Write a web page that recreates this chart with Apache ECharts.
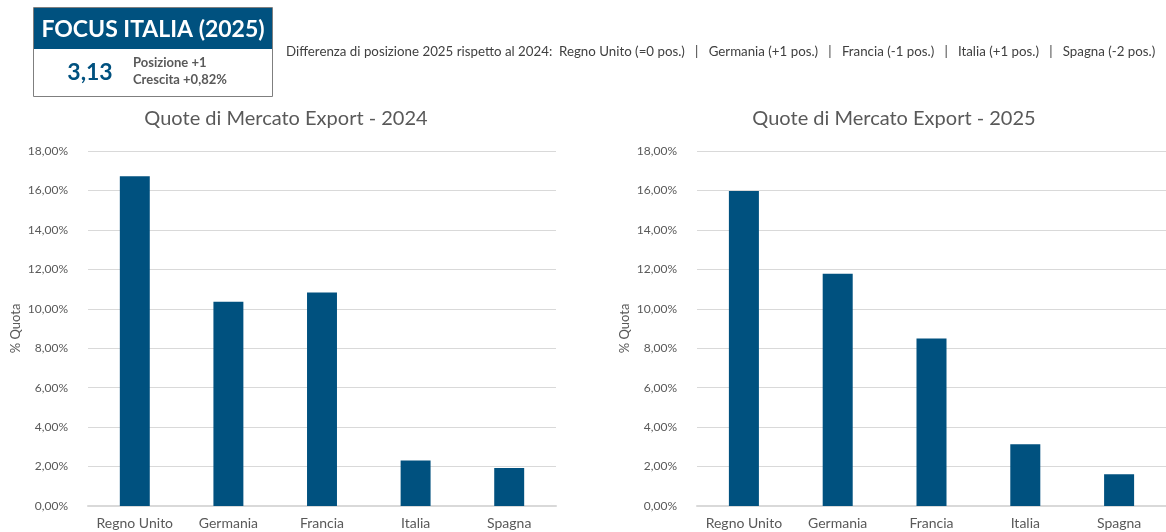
<!DOCTYPE html>
<html>
<head>
<meta charset="utf-8">
<script src="https://cdn.jsdelivr.net/npm/echarts@6/dist/echarts.min.js"></script>
<style>
  html, body { margin: 0; padding: 0; background: #fff; }
  #main { width: 1166px; height: 532px; }
</style>
</head>
<body>
<div id="main"></div>
<script>
// dati
let paesi = ["Regno Unito", "Germania", "Francia", "Italia", "Spagna"];
let quote2024 = [16.72, 10.36, 10.82, 2.31, 1.93];
let quote2025 = [15.97, 11.78, 8.49, 3.13, 1.61];
let differenze = "Differenza di posizione 2025 rispetto al 2024:  Regno Unito (=0 pos.)   |   Germania (+1 pos.)   |   Francia (-1 pos.)   |   Italia (+1 pos.)   |   Spagna (-2 pos.)";

let font = "Lato, 'Open Sans', sans-serif";
let blu = "#00517f";
let grigio = "#595959";

let myChart = echarts.init(document.getElementById("main"));

function yAxis(idx) {
  return {
    type: "value",
    gridIndex: idx,
    min: 0,
    max: 18,
    interval: 2,
    name: "% Quota",
    nameLocation: "middle",
    nameRotate: 90,
    nameGap: 66,
    nameTextStyle: { color: grigio, fontSize: 13, fontFamily: font },
    axisLine: { show: false },
    axisTick: { show: false },
    axisLabel: {
      color: grigio,
      fontSize: 12,
      fontFamily: font,
      margin: 20,
      formatter: function (v) { return v.toFixed(2).replace(".", ",") + "%"; }
    },
    splitLine: { lineStyle: { color: "#d9d9d9", width: 1 } }
  };
}

function xAxis(idx) {
  return {
    type: "category",
    gridIndex: idx,
    data: paesi,
    axisLine: { lineStyle: { color: "#d9d9d9", width: 2 } },
    axisTick: { show: false },
    axisLabel: { color: grigio, fontSize: 14, fontFamily: font, margin: 10, interval: 0, hideOverlap: false }
  };
}

let option = {
  animation: false,
  title: [
    {
      text: "Quote di Mercato Export - 2024",
      left: 281, top: 104, textAlign: "center",
      textStyle: { color: grigio, fontSize: 20, fontWeight: "normal", fontFamily: font }
    },
    {
      text: "Quote di Mercato Export - 2025",
      left: 889, top: 104, textAlign: "center",
      textStyle: { color: grigio, fontSize: 20, fontWeight: "normal", fontFamily: font }
    }
  ],
  grid: [
    { left: 88, right: 610, top: 151, bottom: 26 },
    { left: 697, right: 0, top: 151, bottom: 26 }
  ],
  xAxis: [xAxis(0), xAxis(1)],
  yAxis: [yAxis(0), yAxis(1)],
  series: [
    { type: "bar", xAxisIndex: 0, yAxisIndex: 0, data: quote2024, barWidth: "32%", itemStyle: { color: blu } },
    { type: "bar", xAxisIndex: 1, yAxisIndex: 1, data: quote2025, barWidth: "32%", itemStyle: { color: blu } }
  ],
  graphic: [
    {
      type: "rect",
      shape: { x: 33.5, y: 7.5, width: 239, height: 89 },
      style: { fill: "#fff", stroke: "#7f7f7f", lineWidth: 1 }
    },
    {
      type: "rect",
      shape: { x: 34, y: 8, width: 238, height: 41 },
      style: { fill: blu }
    },
    {
      type: "text", x: 153, y: 30,
      style: { text: "FOCUS ITALIA (2025)", fill: "#fff", font: "bold 23px " + font, align: "center", verticalAlign: "middle" }
    },
    {
      type: "text", x: 90, y: 73,
      style: { text: "3,13", fill: blu, font: "bold 23px " + font, align: "center", verticalAlign: "middle" }
    },
    {
      type: "text", x: 133, y: 63,
      style: { text: "Posizione +1", fill: grigio, font: "bold 13px " + font, verticalAlign: "middle" }
    },
    {
      type: "text", x: 133, y: 80,
      style: { text: "Crescita +0,82%", fill: grigio, font: "bold 13px " + font, verticalAlign: "middle" }
    },
    {
      type: "text", x: 286, y: 52,
      style: { text: differenze, fill: "#404040", font: "13.3px " + font, verticalAlign: "middle" }
    }
  ]
};
myChart.setOption(option);
</script>
</body>
</html>
